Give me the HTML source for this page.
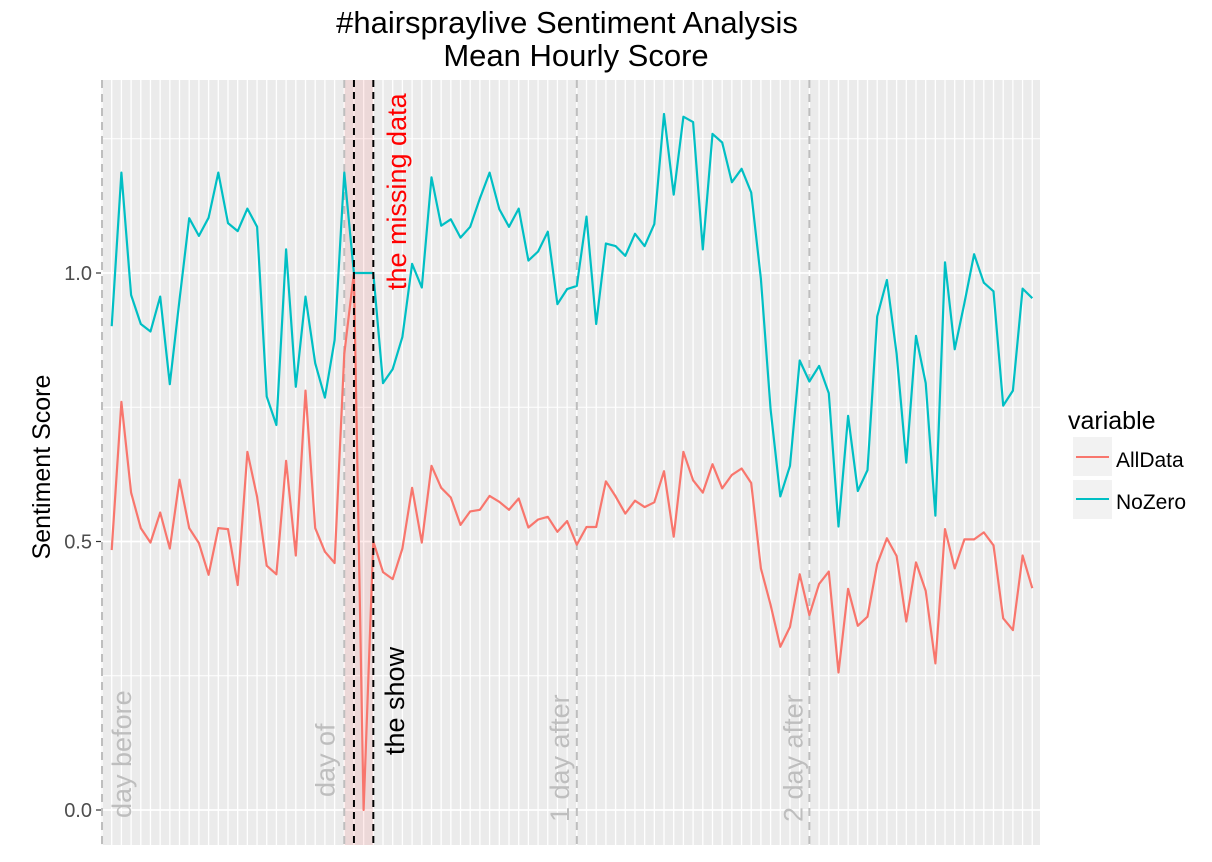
<!DOCTYPE html>
<html><head><meta charset="utf-8"><style>
body{margin:0;background:#fff;}
svg{display:block;font-family:"Liberation Sans",sans-serif;}
</style></head><body>
<svg id="chart" width="1212" height="862" viewBox="0 0 1212 862" xmlns="http://www.w3.org/2000/svg">
<rect x="101" y="80" width="939" height="765" fill="#ebebeb"/>
<g id="grid"></g>
<rect id="band" fill="rgba(255,0,0,0.08)"/>
<g id="vlines"></g>
<g id="series"></g>
<g id="labels"></g>
<g id="yaxis"></g>
<text x="567" y="33" font-size="31" text-anchor="middle" fill="#000">#hairspraylive Sentiment Analysis</text>
<text x="576" y="66" font-size="31" text-anchor="middle" fill="#000">Mean Hourly Score</text>
<text transform="translate(50,467) rotate(-90)" font-size="25" text-anchor="middle" fill="#000">Sentiment Score</text>
<g>
<text x="1068" y="429" font-size="25" fill="#000">variable</text>
<rect x="1073" y="437" width="39" height="39" fill="#f2f2f2"/>
<line x1="1076" x2="1109" y1="457" y2="457" stroke="#F8766D" stroke-width="2"/>
<text x="1116" y="467" font-size="21" fill="#000">AllData</text>
<rect x="1073" y="480" width="39" height="39" fill="#f2f2f2"/>
<line x1="1076" x2="1109" y1="499" y2="499" stroke="#00BFC4" stroke-width="2"/>
<text x="1116" y="509" font-size="21" fill="#000">NoZero</text>
</g>
</svg>
<script>
const allData = [0.484,0.760,0.591,0.525,0.498,0.554,0.487,0.615,0.525,0.497,0.438,0.525,0.523,0.419,0.667,0.583,0.455,0.439,0.650,0.474,0.781,0.525,0.481,0.460,
0.85,1.0,0.0,0.5,0.443,0.430,0.487,0.600,0.498,0.641,0.600,0.582,0.531,0.556,0.559,0.585,0.574,0.559,0.580,0.526,0.541,0.546,0.518,0.538,
0.494,0.527,0.527,0.612,0.584,0.552,0.576,0.564,0.573,0.631,0.509,0.667,0.614,0.591,0.644,0.599,0.624,0.636,0.609,0.450,0.382,0.304,0.341,0.439,
0.363,0.421,0.444,0.256,0.412,0.343,0.360,0.458,0.506,0.473,0.351,0.461,0.408,0.273,0.523,0.450,0.504,0.504,0.517,0.493,0.357,0.335,0.474,0.413];
const noZero = [0.901,1.187,0.959,0.905,0.891,0.956,0.793,0.950,1.102,1.069,1.103,1.187,1.093,1.078,1.120,1.086,0.770,0.717,1.044,0.788,0.956,0.832,0.768,0.875,
1.187,1.0,1.0,1.0,0.795,0.821,0.881,1.017,0.973,1.178,1.088,1.100,1.066,1.086,1.139,1.187,1.119,1.086,1.120,1.023,1.040,1.077,0.942,0.970,
0.976,1.105,0.905,1.055,1.050,1.032,1.073,1.050,1.091,1.296,1.146,1.291,1.281,1.044,1.259,1.243,1.169,1.194,1.150,0.989,0.746,0.584,0.641,0.837,
0.798,0.827,0.776,0.528,0.734,0.594,0.633,0.919,0.987,0.850,0.647,0.883,0.795,0.548,1.020,0.858,0.944,1.035,0.982,0.966,0.753,0.781,0.971,0.953];
const yTicks = [0, 0.5, 1.0];
const yTickLabels = ["0.0","0.5","1.0"];
const yMinor = [0.25, 0.75, 1.25];
const dayMarks = [-1, 24, 48, 72];
const dayLabels = ["day before","day of","1 day after","2 day after"];
const showMarks = [25, 27];
const bandRange = [24, 27];

const NS = "http://www.w3.org/2000/svg";
const X = i => 111.7 + 9.69 * i;
const Y = v => 810 - 537 * v;
const TOP = 80, BOT = 845;
function mk(tag, attrs, parent){const e=document.createElementNS(NS,tag);for(const k in attrs)e.setAttribute(k,attrs[k]);parent.appendChild(e);return e;}

const grid = document.getElementById('grid');
for (let i = -1; i <= 95; i++) {
  const l = mk('line',{x1:X(i),x2:X(i),y1:TOP,y2:BOT,stroke:'#fff','stroke-width':1.3},grid);
  
  
}
yMinor.forEach(v=>{
  const l = mk('line',{x1:101,x2:1040,y1:Y(v),y2:Y(v),stroke:'#fff','stroke-width':0.9},grid);
  
  
});
yTicks.forEach(v=>{
  const l = mk('line',{x1:101,x2:1040,y1:Y(v),y2:Y(v),stroke:'#fff','stroke-width':1.8},grid);
  
  
});

const band = document.getElementById('band');
band.setAttribute('x', X(bandRange[0]));
band.setAttribute('width', X(bandRange[1]) - X(bandRange[0]));
band.setAttribute('y', TOP);
band.setAttribute('height', BOT - TOP);

const vl = document.getElementById('vlines');
dayMarks.forEach(d=>{
  const l = mk('line',{x1:X(d),x2:X(d),y1:TOP,y2:BOT,stroke:'#bebebe','stroke-width':2,'stroke-dasharray':'8,6'},vl);
  
  
});

const ser = document.getElementById('series');
function path(vals,color,name){
  const d = vals.map((v,i)=>(i?'L':'M')+X(i).toFixed(1)+','+Y(v).toFixed(1)).join('');
  const p = mk('path',{d:d,fill:'none',stroke:color,'stroke-width':2.2,'stroke-linejoin':'round'},ser);
  
  
}
path(allData,'#F8766D','alldata-line');
path(noZero,'#00BFC4','nozero-line');

showMarks.forEach(d=>{
  const l = mk('line',{x1:X(d),x2:X(d),y1:TOP,y2:BOT,stroke:'#000','stroke-width':2,'stroke-dasharray':'7,5'},ser);
  
  
});

const lab = document.getElementById('labels');
const dayBase = [29, -10, -8, -7];
const dayStart = [818, 797, 822, 822];
dayMarks.forEach((d,k)=>{
  const bx = X(d) + dayBase[k];
  const t = mk('text',{transform:`translate(${bx},${dayStart[k]}) rotate(-90)`,'font-size':27,fill:'#bebebe'},lab);
  t.textContent = dayLabels[k];
  
  
});
const show = mk('text',{transform:'translate(404,755) rotate(-90)','font-size':27,fill:'#000'},lab);
show.textContent='the show';


const miss = mk('text',{transform:'translate(406,290) rotate(-90)','font-size':27,fill:'#ff0000'},lab);
miss.textContent='the missing data';



const ya = document.getElementById('yaxis');
yTicks.forEach((v,k)=>{
  const l = mk('line',{x1:96,x2:101,y1:Y(v),y2:Y(v),stroke:'#333','stroke-width':1.2},ya);
  
  
  const t = mk('text',{x:92,y:Y(v)+7,'font-size':20,'text-anchor':'end',fill:'#4d4d4d'},ya);
  t.textContent = yTickLabels[k];
  
  
});
</script>
</body></html>
